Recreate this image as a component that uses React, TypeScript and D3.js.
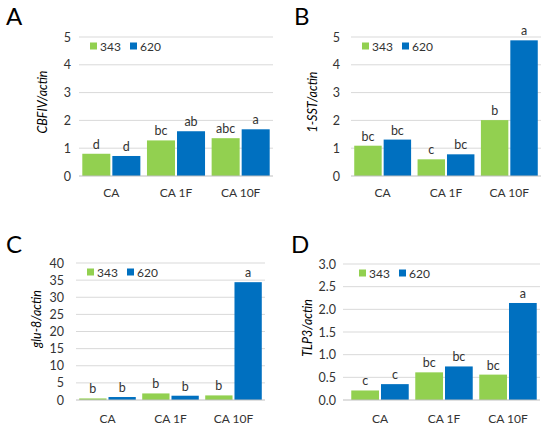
import * as d3 from "d3";

// Categories and series
const categories = ["CA", "CA 1F", "CA 10F"];
const seriesNames = ["343", "620"];
const seriesColors = ["#92d050", "#0070c0"];

// Panel A: CBFIV/actin
const cbfiv343 = [0.8, 1.28, 1.36];
const cbfiv620 = [0.72, 1.61, 1.68];
const cbfivLetters343 = ["d", "bc", "abc"];
const cbfivLetters620 = ["d", "ab", "a"];

// Panel B: 1-SST/actin
const sst343 = [1.09, 0.6, 2.01];
const sst620 = [1.31, 0.78, 4.88];
const sstLetters343 = ["bc", "c", "b"];
const sstLetters620 = ["bc", "bc", "a"];

// Panel C: glu-8/actin
const glu343 = [0.46, 1.92, 1.34];
const glu620 = [0.87, 1.25, 34.4];
const gluLetters343 = ["b", "b", "b"];
const gluLetters620 = ["b", "b", "a"];

// Panel D: TLP3/actin
const tlp343 = [0.21, 0.61, 0.56];
const tlp620 = [0.35, 0.74, 2.14];
const tlpLetters343 = ["c", "bc", "bc"];
const tlpLetters620 = ["c", "bc", "a"];

const FONT = "Lato, 'Noto Sans', sans-serif";
const TEXT = "#333333";

interface PanelProps {
  letter: string;
  label: string;
  values: number[][];
  letters: string[][];
  yMax: number;
  yStep: number;
  fmt: (n: number) => string;
  box: { left: number; right: number; top: number; bottom: number };
  gridLeft: number;
  tickX: number;
  labelPos: [number, number];
  letterPos: [number, number];
  xLabelY: number;
}

function Panel(p: PanelProps) {
  const { left, right, top, bottom } = p.box;
  const x0 = d3.scaleBand<string>().domain(categories).range([left, right]);
  const x1 = d3
    .scaleBand<string>()
    .domain(seriesNames)
    .range([0, x0.bandwidth()])
    .paddingInner(0.067)
    .paddingOuter(0.11);
  const y = d3.scaleLinear().domain([0, p.yMax]).range([bottom, top]);
  const ticks = d3.range(0, p.yMax + p.yStep / 2, p.yStep);

  return (
    <g>
      <text x={p.letterPos[0]} y={p.letterPos[1]} fontSize={24} fontFamily={FONT} fill="#000">
        {p.letter}
      </text>
      {ticks.map((t) => (
        <g key={t}>
          {t > 0 && (
            <line x1={p.gridLeft} x2={right} y1={y(t)} y2={y(t)} stroke="#d9d9d9" strokeWidth={1} />
          )}
          <text
            x={p.tickX}
            y={y(t)}
            textAnchor="end"
            dominantBaseline="central"
            fontSize={12.5}
            fontFamily={FONT}
            fill={TEXT}
          >
            {p.fmt(t)}
          </text>
        </g>
      ))}
      {categories.map((c, ci) =>
        seriesNames.map((s, si) => {
          const v = p.values[si][ci];
          const bx = (x0(c) || 0) + (x1(s) || 0);
          return (
            <g key={c + s}>
              <rect
                x={bx}
                y={y(v)}
                width={x1.bandwidth()}
                height={bottom - y(v)}
                fill={seriesColors[si]}
              />
              <text
                x={bx + x1.bandwidth() / 2}
                y={y(v) - 5}
                textAnchor="middle"
                fontSize={12.5}
                fontFamily={FONT}
                fill={TEXT}
              >
                {p.letters[si][ci]}
              </text>
            </g>
          );
        })
      )}
      <line x1={p.gridLeft} x2={right} y1={bottom} y2={bottom} stroke="#bfbfbf" strokeWidth={1} />
      {categories.map((c) => (
        <text
          key={c}
          x={(x0(c) || 0) + x0.bandwidth() / 2}
          y={p.xLabelY}
          textAnchor="middle"
          fontSize={12}
          fontFamily={FONT}
          fill={TEXT}
        >
          {c}
        </text>
      ))}
      <text
        transform={`translate(${p.labelPos[0]},${p.labelPos[1]}) rotate(-90)`}
        textAnchor="middle"
        dominantBaseline="central"
        fontSize={12.5}
        fontStyle="italic"
        fontFamily={FONT}
        fill="#000"
      >
        {p.label}
      </text>
      {seriesNames.map((s, si) => (
        <g key={s} transform={`translate(${left + 11 + si * 40},${top + 9})`}>
          <rect x={0} y={-3.5} width={7} height={7} fill={seriesColors[si]} />
          <text x={10} y={0} dominantBaseline="central" fontSize={12} fontFamily={FONT} fill={TEXT}>
            {s}
          </text>
        </g>
      ))}
    </g>
  );
}

export default function App() {
  const intFmt = d3.format("d");
  const oneDec = d3.format(".1f");
  return (
    <div style={{ position: "absolute", left: 0, top: 0 }}>
      <svg width={550} height={432} style={{ display: "block", background: "#fff" }}>
        <Panel
          letter="A"
          label="CBFIV/actin"
          values={[cbfiv343, cbfiv620]}
          letters={[cbfivLetters343, cbfivLetters620]}
          yMax={5}
          yStep={1}
          fmt={intFmt}
          box={{ left: 79, right: 273, top: 37, bottom: 176 }}
          gridLeft={79}
          tickX={71}
          labelPos={[42, 102]}
          letterPos={[6, 25]}
          xLabelY={197}
        />
        <Panel
          letter="B"
          label="1-SST/actin"
          values={[sst343, sst620]}
          letters={[sstLetters343, sstLetters620]}
          yMax={5}
          yStep={1}
          fmt={intFmt}
          box={{ left: 351, right: 541, top: 37, bottom: 176 }}
          gridLeft={351}
          tickX={340}
          labelPos={[312, 102]}
          letterPos={[294, 25]}
          xLabelY={197}
        />
        <Panel
          letter="C"
          label="glu-8/actin"
          values={[glu343, glu620]}
          letters={[gluLetters343, gluLetters620]}
          yMax={40}
          yStep={5}
          fmt={intFmt}
          box={{ left: 76, right: 265, top: 263, bottom: 400 }}
          gridLeft={76}
          tickX={64}
          labelPos={[36, 319]}
          letterPos={[6, 253]}
          xLabelY={423}
        />
        <Panel
          letter="D"
          label="TLP3/actin"
          values={[tlp343, tlp620]}
          letters={[tlpLetters343, tlpLetters620]}
          yMax={3}
          yStep={0.5}
          fmt={oneDec}
          box={{ left: 348, right: 540, top: 264, bottom: 400 }}
          gridLeft={343}
          tickX={336}
          labelPos={[307, 328]}
          letterPos={[291, 253]}
          xLabelY={423}
        />
      </svg>
    </div>
  );
}
